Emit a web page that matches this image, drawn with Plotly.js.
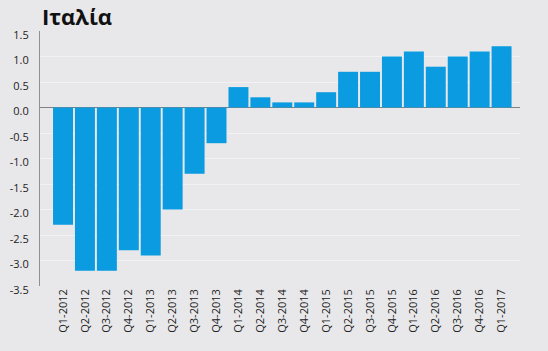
<!DOCTYPE html>
<html><head><meta charset="utf-8">
<script src="https://cdn.plot.ly/plotly-3.0.1.min.js"></script>
<style>html,body{margin:0;padding:0;background:#e8e8ea;}#chart{width:548px;height:351px;}</style>
</head><body><div id="chart"></div>
<script>
const categories = ["Q1-2012","Q2-2012","Q3-2012","Q4-2012","Q1-2013","Q2-2013","Q3-2013","Q4-2013","Q1-2014","Q2-2014","Q3-2014","Q4-2014","Q1-2015","Q2-2015","Q3-2015","Q4-2015","Q1-2016","Q2-2016","Q3-2016","Q4-2016","Q1-2017"];
const values = [-2.3,-3.2,-3.2,-2.8,-2.9,-2.0,-1.3,-0.7,0.4,0.2,0.1,0.1,0.3,0.7,0.7,1.0,1.1,0.8,1.0,1.1,1.2];
const yTicks = [-3.5,-3.0,-2.5,-2.0,-1.5,-1.0,-0.5,0.0,0.5,1.0,1.5];
const titleText = "Ιταλία";

Plotly.newPlot('chart', [{
  type: 'bar', x: categories, y: values,
  marker: {color: '#0a9be0'}, hoverinfo: 'skip'
}], {
  width: 548, height: 351,
  paper_bgcolor: '#e8e8ea', plot_bgcolor: '#e8e8ea',
  margin: {l: 40, r: 28, t: 31, b: 65},
  bargap: 0.09,
  showlegend: false,
  title: {text: '<b>' + titleText + '</b>', x: 42/548, xanchor: 'left', y: 1 - 17/351, yanchor: 'middle',
          font: {family: 'Open Sans, sans-serif', size: 22, color: '#111'}},
  font: {family: 'Open Sans, sans-serif', color: '#222'},
  xaxis: {type: 'category', range: [-1.05, 20.84], tickangle: -90, showgrid: false, zeroline: false,
          showline: false, ticks: '', tickfont: {size: 11, color: '#222'}},
  yaxis: {range: [-3.5, 1.5], tickvals: yTicks, ticktext: yTicks.map(v => v.toFixed(1)),
          showgrid: true, gridcolor: '#f2f2f4', gridwidth: 1,
          zeroline: true, zerolinecolor: '#808080', zerolinewidth: 1.5,
          showline: true, linecolor: '#909090', linewidth: 1, ticks: '',
          ticklabelstandoff: 8, ticklabelshift: 4,
          tickfont: {size: 11, color: '#222'}}
}, {displayModeBar: false, staticPlot: true});
</script></body></html>
